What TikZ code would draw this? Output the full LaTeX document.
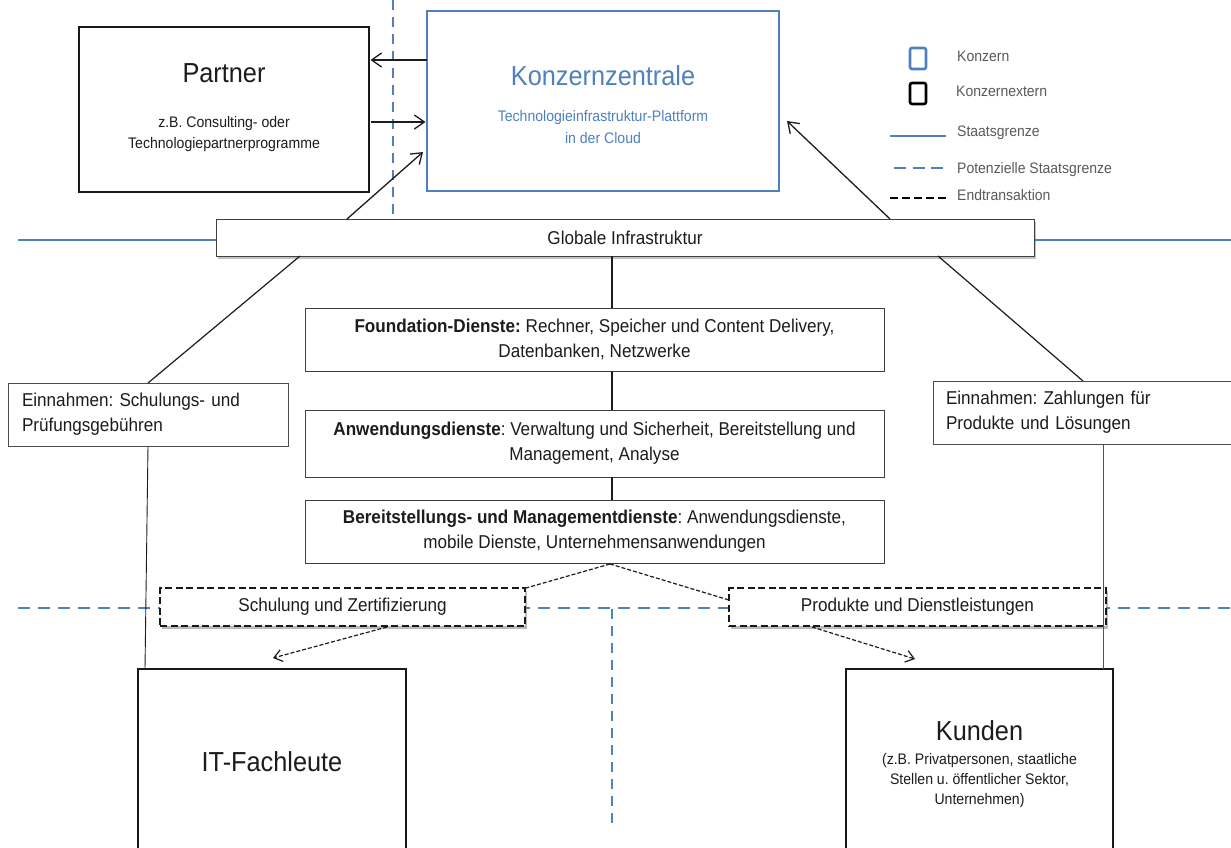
\documentclass[tikz,border=0pt]{standalone}
\usepackage{fontspec}
\setmainfont{Liberation Sans}[FakeStretch=0.92]
\usetikzlibrary{arrows.meta,calc,shadows}
\frenchspacing

\definecolor{corpblue}{RGB}{79,129,189}
\definecolor{inkgray}{RGB}{28,28,28}
\definecolor{legendgray}{RGB}{89,89,89}
\definecolor{linkblue}{RGB}{31,95,140}

\begin{document}
\begin{tikzpicture}[x=1pt,y=-1pt,
  txtL/.style={font=\fontsize{27.5}{33}\selectfont},
  txtM/.style={font=\fontsize{18.6}{25}\selectfont},
  txtS/.style={font=\fontsize{15.3}{20}\selectfont},
  txtLeg/.style={font=\fontsize{15.2}{18}\selectfont, text=legendgray, anchor=base west, inner sep=0pt},
  boxbase/.style={anchor=north west, inner sep=0pt, outer sep=0pt, fill=white, text=inkgray},
  extbox/.style={boxbase, draw=black!90, line width=2.8pt},
  corpbox/.style={boxbase, draw=corpblue, line width=2.8pt},
  layerbox/.style={boxbase, draw=black!75, line width=1pt, txtM, align=center},
  revbox/.style={boxbase, draw=black!70, line width=1pt, txtM, align=left},
  flowbox/.style={boxbase, draw=black!90, line width=2.6pt, dash pattern=on 7pt off 3.5pt, txtM,
    drop shadow={shadow xshift=2pt, shadow yshift=-3pt, opacity=0.45, fill=black!60}},
  softshadow/.style={drop shadow={shadow xshift=2pt, shadow yshift=-2.5pt, opacity=0.4, fill=black!60}},
  state/.style={draw=corpblue, line width=2.8pt},
  statedash/.style={draw=corpblue, line width=2.8pt, dash pattern=on 12pt off 8pt},
  statedashv/.style={draw=corpblue, line width=2.8pt, dash pattern=on 10pt off 7pt},
  link/.style={draw=inkgray, line width=1.2pt},
  arr/.style={draw=inkgray, line width=1.3pt, -{Straight Barb[length=10pt,width=14pt]}},
  endtx/.style={draw=inkgray, line width=1.2pt, dash pattern=on 4pt off 2pt},
  endarr/.style={endtx, -{Straight Barb[length=8pt,width=12pt,line width=1.2pt]}},
  legsq/.style={minimum width=16pt, minimum height=21pt, inner sep=0pt, line width=2.6pt, rounded corners=2pt},
  label/.style={anchor=base, inner sep=0pt, text=inkgray}
]
\clip (0,0) rectangle (1231,848);

% state borders (drawn first, boxes lie on top of them)
\draw[state] (18,240) -- (1231,240);
\draw[statedashv] (393,0) -- (393,219);
\draw[statedash] (18,608) -- (1231,608);
\draw[statedashv] (612,609) -- (612,830);

% headquarters and partner
\node[extbox, minimum width=290pt, minimum height=165pt] (partner) at (79,27) {};
\node[label, txtL] (partnertitle) at (224,83) {Partner};
\node[label, txtS] (partnerline1) at (224,128) {z.B. Consulting- oder};
\node[label, txtS] (partnerline2) at (224,148) {Technologiepartnerprogramme};

\node[corpbox, minimum width=352pt, minimum height=180pt] (hq) at (427,11) {};
\node[label, txtL, text=corpblue] (hqtitle) at (603,86) {Konzernzentrale};
\node[label, txtS, text=corpblue] (hqline1) at (603,122) {Technologieinfrastruktur-Plattform};
\node[label, txtS, text=corpblue] (hqline2) at (603,143) {in der Cloud};

% global infrastructure and service layers
\node[layerbox, softshadow, minimum width=818pt, minimum height=37pt] (glob) at (216,219) {Globale Infrastruktur};
\node[layerbox, minimum width=579pt, minimum height=63pt] (found) at (305,308)
  {\textbf{Foundation-Dienste:} Rechner, Speicher und Content Delivery,\\Datenbanken, Netzwerke};
\node[layerbox, minimum width=579pt, minimum height=67pt] (anw) at (305,410)
  {\textbf{Anwendungsdienste}: Verwaltung und Sicherheit, Bereitstellung und\\Management, Analyse};
\node[layerbox, minimum width=579pt, minimum height=63pt] (bereit) at (305,500)
  {\textbf{Bereitstellungs- und Managementdienste}: Anwendungsdienste,\\mobile Dienste, Unternehmensanwendungen};

% revenue boxes
\node[revbox, minimum width=280pt, minimum height=63pt, inner xsep=14pt, text width=252pt] (revl) at (8,383)
  {Einnahmen: Schulungs- und\\Prüfungsgebühren};
\node[revbox, minimum width=320pt, minimum height=63pt, inner xsep=13pt, text width=294pt] (revr) at (933,381)
  {Einnahmen: Zahlungen für\\Produkte und Lösungen};

% end transactions
\node[flowbox, minimum width=365pt, minimum height=38pt] (train) at (160,588) {Schulung und Zertifizierung};
\node[flowbox, minimum width=377pt, minimum height=38pt] (prod) at (729,588) {Produkte und Dienstleistungen};

% external parties
\node[extbox, minimum width=268pt, minimum height=200pt] (itpro) at (138,669) {};
\node[label, txtL] (ittitle) at (272,771) {IT-Fachleute};
\node[extbox, minimum width=267pt, minimum height=200pt] (cust) at (846,669) {};
\node[label, txtL] (custtitle) at (979.5,740) {Kunden};
\node[label, txtS] (custline1) at (979.5,764) {(z.B. Privatpersonen, staatliche};
\node[label, txtS] (custline2) at (979.5,784) {Stellen u. öffentlicher Sektor,};
\node[label, txtS] (custline3) at (979.5,804) {Unternehmen)};

% legend
\node[legsq, draw=corpblue] (legcorp) at (918,58.5) {};
\node[legsq, draw=black] (legext) at (918,93.5) {};
\node[txtLeg] (legcorptext) at (957,62) {Konzern};
\node[txtLeg] (legexttext) at (956,97) {Konzernextern};
\coordinate (legstateA) at (890,136);
\coordinate (legstateB) at (946,136);
\draw[state] (legstateA) -- (legstateB);
\node[txtLeg] (legstatetext) at (957,137) {Staatsgrenze};
\coordinate (legpotA) at (894,168);
\coordinate (legpotB) at (944,168);
\draw[draw=corpblue, line width=2.8pt, dash pattern=on 12pt off 6.5pt] (legpotA) -- (legpotB);
\node[txtLeg] (legpottext) at (957,173) {Potenzielle Staatsgrenze};
\coordinate (legendA) at (890,198);
\coordinate (legendB) at (946,198);
\draw[draw=black, line width=2.4pt, dash pattern=on 8pt off 4pt] (legendA) -- (legendB);
\node[txtLeg] (legendtext) at (957,200) {Endtransaktion};

% connectors between partner, headquarters and infrastructure
\draw[arr] ($(hq.north west)+(0,49)$) -- ($(partner.north east)+(1.5,33)$);
\draw[arr] ($(partner.north east)+(1.5,95)$) -- ($(hq.north west)+(-1.5,111)$);
\draw[arr] ($(glob.north west)+(131,0)$) -- ($(hq.north west)+(-4,141)$);
\draw[arr] ($(glob.north west)+(674,0)$) -- ($(hq.north east)+(8,110)$);

% revenue and layer links
\draw[link] ($(glob.south west)+(84,0)$) -- ($(revl.north west)+(140,0)$);
\draw[link] ($(glob.south west)+(722,0)$) -- ($(revr.north west)+(150,0)$);
\draw[link] ($(glob.south west)+(396,0)$) -- ($(found.north west)+(307,0)$);
\draw[link] ($(found.south west)+(307,0)$) -- ($(anw.north west)+(307,0)$);
\draw[link] ($(anw.south west)+(307,0)$) -- ($(bereit.north west)+(307,0)$);
\draw[draw=inkgray, line width=0.9pt] ($(revl.south west)+(140,0)$) -- ($(itpro.north west)+(7,0)$);
\draw[draw=linkblue, line width=0.9pt] ($(revr.south west)+(170,0)$) -- ($(cust.north west)+(257,0)$);

% end transaction flows
\coordinate (apex) at ($(bereit.south west)+(305,1)$);
\draw[endtx] (apex) -- ($(train.north east)+(1,0)$);
\draw[endtx] (apex) -- ($(prod.north west)+(0,12)$);
\draw[endarr] ($(train.south west)+(227,1)$) -- ($(itpro.north west)+(135,-11)$);
\draw[endarr] ($(prod.south west)+(83,1)$) -- ($(cust.north west)+(69,-10)$);
\end{tikzpicture}
\end{document}
